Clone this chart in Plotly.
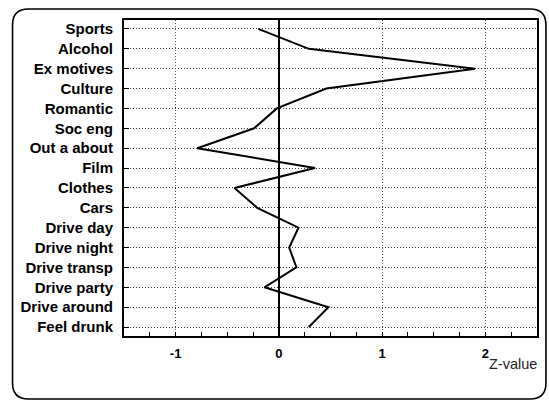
import plotly.graph_objects as go

# Activity items (top to bottom) and their Z-values
categories = [
    "Sports", "Alcohol", "Ex motives", "Culture", "Romantic", "Soc eng",
    "Out a about", "Film", "Clothes", "Cars", "Drive day", "Drive night",
    "Drive transp", "Drive party", "Drive around", "Feel drunk",
]
z_values = [-0.20, 0.29, 1.90, 0.46, -0.02, -0.24, -0.79, 0.35,
            -0.43, -0.21, 0.19, 0.10, 0.17, -0.14, 0.48, 0.29]
x_ticks = [-1, 0, 1, 2]
x_ticktext = ["-1", "0", "1", "2"]

W, H = 549, 401
L, R, T, B = 124, 10, 20, 65
pw, ph = W - L - R, H - T - B

FONT = "Liberation Sans, Arial, Helvetica, sans-serif"

fig = go.Figure()
fig.add_trace(go.Scatter(
    x=z_values, y=categories, mode="lines",
    line=dict(color="black", width=2),
    showlegend=False, hoverinfo="x+y",
))


def px_to_paper(px, py):
    return (px - L) / pw, (H - B - py) / ph


def P(px, py):
    a, b = px_to_paper(px, py)
    return f"{a:.5f},{b:.5f}"


# Rounded outer frame around the whole panel
x0, y0, x1, y1, r = 12, 9, 548, 399, 16
path = (
    f"M {P(x0 + r, y0)} L {P(x1 - r, y0)} Q {P(x1, y0)} {P(x1, y0 + r)} "
    f"L {P(x1, y1 - r)} Q {P(x1, y1)} {P(x1 - r, y1)} "
    f"L {P(x0 + r, y1)} Q {P(x0, y1)} {P(x0, y1 - r)} "
    f"L {P(x0, y0 + r)} Q {P(x0, y0)} {P(x0 + r, y0)} Z"
)
fig.add_shape(type="path", path=path, xref="paper", yref="paper",
              line=dict(color="black", width=1.6), layer="below")

fig.add_annotation(
    text="Z-value", xref="paper", yref="paper",
    x=px_to_paper(541, 0)[0], y=px_to_paper(0, 364)[1],
    xanchor="right", yanchor="middle", showarrow=False,
    font=dict(family=FONT, size=14.5, color="#222"),
)

fig.update_xaxes(
    range=[-1.5, 2.5],
    tickvals=x_ticks, ticktext=x_ticktext,
    tickfont=dict(family=FONT, size=13, color="black", weight="bold"),
    ticks="inside", ticklen=4, tickcolor="black", tickwidth=1,
    minor=dict(dtick=0.25, ticks="inside", ticklen=4, tickcolor="black",
               showgrid=False),
    showgrid=True, gridcolor="#555", griddash="1px,2px", gridwidth=1,
    zeroline=True, zerolinecolor="black", zerolinewidth=2,
    showline=True, linecolor="black", linewidth=2, mirror=True,
    ticklabelstandoff=4,
)
fig.update_yaxes(
    type="category", categoryorder="array", categoryarray=categories,
    range=[len(categories) - 0.55, -0.45],
    tickfont=dict(family=FONT, size=15, color="black", weight="bold"),
    ticks="inside", ticklen=5, tickcolor="black", tickwidth=1,
    showgrid=True, gridcolor="#333", griddash="1px,2px", gridwidth=1,
    showline=True, linecolor="black", linewidth=2, mirror=True,
    ticklabelstandoff=6,
)
fig.update_layout(
    width=W, height=H,
    margin=dict(l=L, r=R, t=T, b=B),
    paper_bgcolor="white", plot_bgcolor="white",
    font=dict(family=FONT),
)
fig.write_html("out.html")
